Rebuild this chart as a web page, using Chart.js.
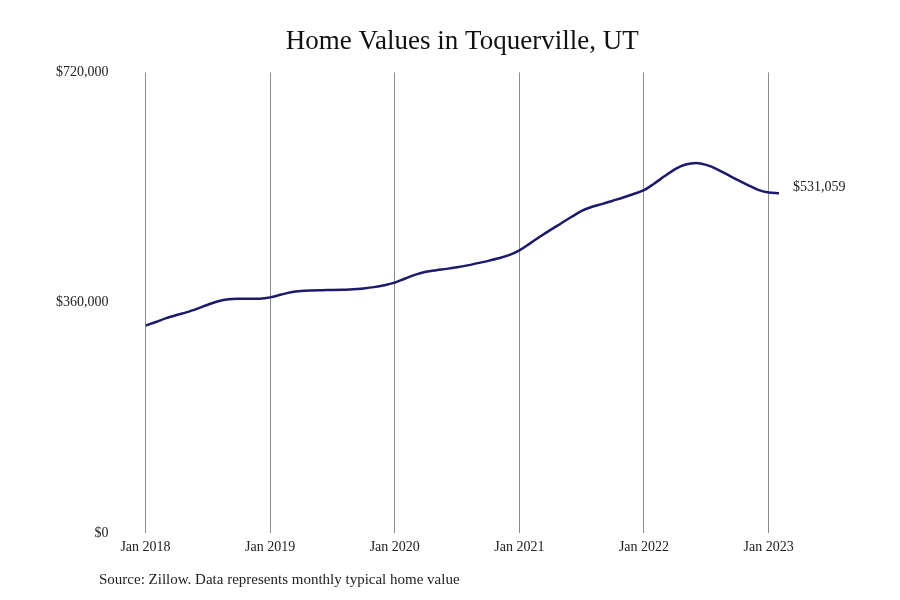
<!DOCTYPE html>
<html>
<head>
<meta charset="utf-8">
<script src="https://cdn.jsdelivr.net/npm/chart.js@4"></script>
<style>
  body { margin: 0; background: #fff; }
  #wrap { width: 900px; height: 600px; position: relative; }
</style>
</head>
<body>
<div id="wrap"><canvas id="grafico-valores"></canvas></div>
<script>
// Valores mensais Jan 2018 - Feb 2023
const valoresCasa = [
  324400, 330000, 336000, 341000, 345500, 351000, 357000, 362500, 365500, 366200, 366300, 366500,
  368500, 372500, 376500, 378500, 379300, 379700, 380000, 380400, 381000, 382500, 384500, 387500,
  391500, 398000, 404000, 408500, 411000, 413000, 415500, 418500, 422000, 425500, 429500, 434500,
  442000, 452500, 463500, 474000, 484000, 494000, 503500, 510000, 514500, 519500, 524500, 530000,
  536000, 546500, 558000, 569000, 576000, 578500, 575500, 569000, 560500, 552000, 544000, 536500,
  532500, 531059
];
const mesesTicks = [0, 12, 24, 36, 48, 60];
const labelsTicks = ["Jan 2018", "Jan 2019", "Jan 2020", "Jan 2021", "Jan 2022", "Jan 2023"];
const ticksY = [0, 360000, 720000];

const fonteSerif = "'Liberation Serif', 'DejaVu Serif', serif";
const dinheiro = v => "$" + v.toLocaleString("en-US");

// rótulo do último valor + fonte embaixo
const pluginTextos = {
  id: "textos",
  afterDatasetsDraw(chart) {
    const ctx = chart.ctx;
    const pts = chart.getDatasetMeta(0).data;
    const ult = pts[pts.length - 1];
    ctx.save();
    ctx.font = "14px " + fonteSerif;
    ctx.fillStyle = "#222";
    ctx.textBaseline = "middle";
    ctx.textAlign = "left";
    ctx.fillText(dinheiro(valoresCasa[valoresCasa.length - 1]), ult.x + 14, ult.y - 6);
    ctx.font = "15px " + fonteSerif;
    ctx.fillText("Source: Zillow. Data represents monthly typical home value", 99, 580);
    ctx.restore();
  }
};

const dadosValores = {
  datasets: [{
    label: "",
    data: valoresCasa.map((v, i) => ({ x: i, y: v })),
    borderColor: "#1b1a6b",
    borderWidth: 2.5,
    pointRadius: 0,
    cubicInterpolationMode: "monotone",
    fill: false
  }]
};

const configValores = {
  type: "line",
  data: dadosValores,
  options: {
    responsive: true,
    maintainAspectRatio: false,
    animation: false,
    layout: { padding: { left: 19, right: 121, top: 24, bottom: 38 } },
    plugins: {
      legend: { display: false },
      tooltip: { enabled: false },
      title: {
        display: true,
        text: "Home Values in Toquerville, UT",
        fullSize: false,
        color: "#111",
        font: { family: fonteSerif, size: 27, weight: "normal" },
        padding: { top: 2, bottom: 14 }
      }
    },
    scales: {
      x: {
        type: "linear",
        min: 0,
        max: 61,
        afterBuildTicks: s => { s.ticks = mesesTicks.map(v => ({ value: v })); },
        ticks: {
          autoSkip: false,
          maxRotation: 0,
          padding: 6,
          color: "#222",
          font: { family: fonteSerif, size: 14 },
          callback: v => labelsTicks[mesesTicks.indexOf(v)]
        },
        grid: { display: true, color: "#8c8c8c", lineWidth: 1, drawTicks: false },
        border: { display: false }
      },
      y: {
        min: 0,
        max: 720000,
        afterBuildTicks: s => { s.ticks = ticksY.map(v => ({ value: v })); },
        ticks: {
          padding: 37,
          color: "#222",
          font: { family: fonteSerif, size: 14 },
          callback: v => dinheiro(v)
        },
        grid: { display: false, drawTicks: false },
        border: { display: false }
      }
    }
  },
  plugins: [pluginTextos]
};

let meuGraficoValores = new Chart(document.getElementById("grafico-valores"), configValores);
</script>
</body>
</html>
